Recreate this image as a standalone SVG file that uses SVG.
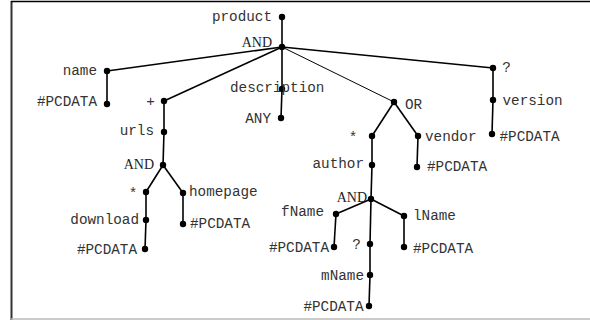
<svg xmlns="http://www.w3.org/2000/svg" width="590" height="320" viewBox="0 0 590 320">
<style>
.t{font-family:"Liberation Mono","Courier New",monospace;font-size:14.3px;fill:#333}
.a{font-family:"Liberation Serif","Times New Roman",serif;font-size:14px;fill:#222}
.e{text-anchor:end}
.m{text-anchor:middle}
.c line{stroke:#000;stroke-width:1.6}
.d circle{fill:#000}
</style>
<rect x="0" y="0" width="590" height="320" fill="#fff"/>
<line x1="11.5" y1="1" x2="11.5" y2="320" stroke="#333" stroke-width="2"/>
<line x1="11" y1="1.5" x2="590" y2="1.5" stroke="#000" stroke-width="1.5"/>
<line x1="11" y1="319" x2="590" y2="319" stroke="#bbb" stroke-width="1.5"/>
<g class="c" id="connectors">
<line x1="282" y1="17" x2="282" y2="47"/>
<line x1="282" y1="47" x2="107" y2="71"/>
<line x1="107" y1="71" x2="107" y2="104"/>
<line x1="282" y1="47" x2="164" y2="101"/>
<line x1="164" y1="101" x2="164" y2="132"/>
<line x1="164" y1="132" x2="163" y2="165"/>
<line x1="163" y1="165" x2="146" y2="192"/>
<line x1="146" y1="192" x2="146" y2="220"/>
<line x1="146" y1="220" x2="145" y2="249"/>
<line x1="163" y1="165" x2="183" y2="193"/>
<line x1="183" y1="193" x2="183" y2="224"/>
<line x1="282" y1="47" x2="282" y2="89"/>
<line x1="282" y1="89" x2="281" y2="118"/>
<line x1="282" y1="47" x2="394" y2="102" style="stroke-width:1"/>
<line x1="394" y1="102" x2="372" y2="136"/>
<line x1="394" y1="102" x2="418" y2="136"/>
<line x1="418" y1="136" x2="417" y2="167"/>
<line x1="372" y1="136" x2="372" y2="165"/>
<line x1="372" y1="165" x2="371" y2="199"/>
<line x1="371" y1="199" x2="336" y2="214"/>
<line x1="336" y1="214" x2="334" y2="247"/>
<line x1="371" y1="199" x2="370" y2="244"/>
<line x1="370" y1="244" x2="370" y2="275"/>
<line x1="370" y1="275" x2="369" y2="306"/>
<line x1="371" y1="199" x2="404" y2="216"/>
<line x1="404" y1="216" x2="404" y2="247"/>
<line x1="282" y1="47" x2="493" y2="68"/>
<line x1="493" y1="68" x2="493" y2="100"/>
<line x1="493" y1="100" x2="492" y2="134"/>
</g>
<g class="d">
<g id="product"><circle cx="282" cy="17" r="3.2"/><text class="t e" x="272" y="21">product</text></g>
<g id="and1"><circle cx="282" cy="47" r="3.2"/><text class="a e" x="272" y="47">AND</text></g>
<g id="name"><circle cx="107" cy="71" r="3.2"/><text class="t e" x="97" y="75">name</text></g>
<g id="pc1"><circle cx="107" cy="104" r="3.2"/><text class="t e" x="97" y="106">#PCDATA</text></g>
<g id="plus"><circle cx="164" cy="101" r="3.2"/><text class="t m" x="150.5" y="106">+</text></g>
<g id="urls"><circle cx="164" cy="132" r="3.2"/><text class="t e" x="154" y="135">urls</text></g>
<g id="and2"><circle cx="163" cy="165" r="3.2"/><text class="a e" x="154" y="169">AND</text></g>
<g id="star1"><circle cx="146" cy="192" r="3.2"/><text class="t m" x="133" y="198">*</text></g>
<g id="download"><circle cx="146" cy="220" r="3.2"/><text class="t e" x="139" y="224">download</text></g>
<g id="pc2"><circle cx="145" cy="249" r="3.2"/><text class="t e" x="137" y="254">#PCDATA</text></g>
<g id="homepage"><circle cx="183" cy="193" r="3.2"/><text class="t" x="189" y="196">homepage</text></g>
<g id="pc3"><circle cx="183" cy="224" r="3.2"/><text class="t" x="190" y="228">#PCDATA</text></g>
<g id="description"><circle cx="282" cy="89" r="3.2"/><text class="t" x="230" y="92">description</text></g>
<g id="any"><circle cx="281" cy="118" r="3.2"/><text class="t e" x="271" y="123">ANY</text></g>
<g id="or"><circle cx="394" cy="102" r="3.2"/><text class="t" x="405" y="109">OR</text></g>
<g id="star2"><circle cx="372" cy="136" r="3.2"/><text class="t m" x="353" y="142">*</text></g>
<g id="author"><circle cx="372" cy="165" r="3.2"/><text class="t e" x="364" y="168">author</text></g>
<g id="and3"><circle cx="371" cy="199" r="3.2"/><text class="a e" x="367" y="202">AND</text></g>
<g id="fName"><circle cx="336" cy="214" r="3.2"/><text class="t e" x="324" y="216">fName</text></g>
<g id="pc4"><circle cx="334" cy="247" r="3.2"/><text class="t e" x="329" y="252">#PCDATA</text></g>
<g id="q2"><circle cx="370" cy="244" r="3.2"/><text class="t m" x="356.5" y="249">?</text></g>
<g id="mName"><circle cx="370" cy="275" r="3.2"/><text class="t e" x="364" y="280">mName</text></g>
<g id="pc5"><circle cx="369" cy="306" r="3.2"/><text class="t e" x="363.5" y="311">#PCDATA</text></g>
<g id="lName"><circle cx="404" cy="216" r="3.2"/><text class="t" x="413" y="220">lName</text></g>
<g id="pc6"><circle cx="404" cy="247" r="3.2"/><text class="t" x="413" y="253">#PCDATA</text></g>
<g id="vendor"><circle cx="418" cy="136" r="3.2"/><text class="t" x="425" y="141">vendor</text></g>
<g id="pc7"><circle cx="417" cy="167" r="3.2"/><text class="t" x="427" y="171">#PCDATA</text></g>
<g id="q1"><circle cx="493" cy="68" r="3.2"/><text class="t m" x="506.5" y="72">?</text></g>
<g id="version"><circle cx="493" cy="100" r="3.2"/><text class="t" x="502.5" y="105">version</text></g>
<g id="pc8"><circle cx="492" cy="134" r="3.2"/><text class="t" x="499.5" y="141">#PCDATA</text></g>
</g>
</svg>
